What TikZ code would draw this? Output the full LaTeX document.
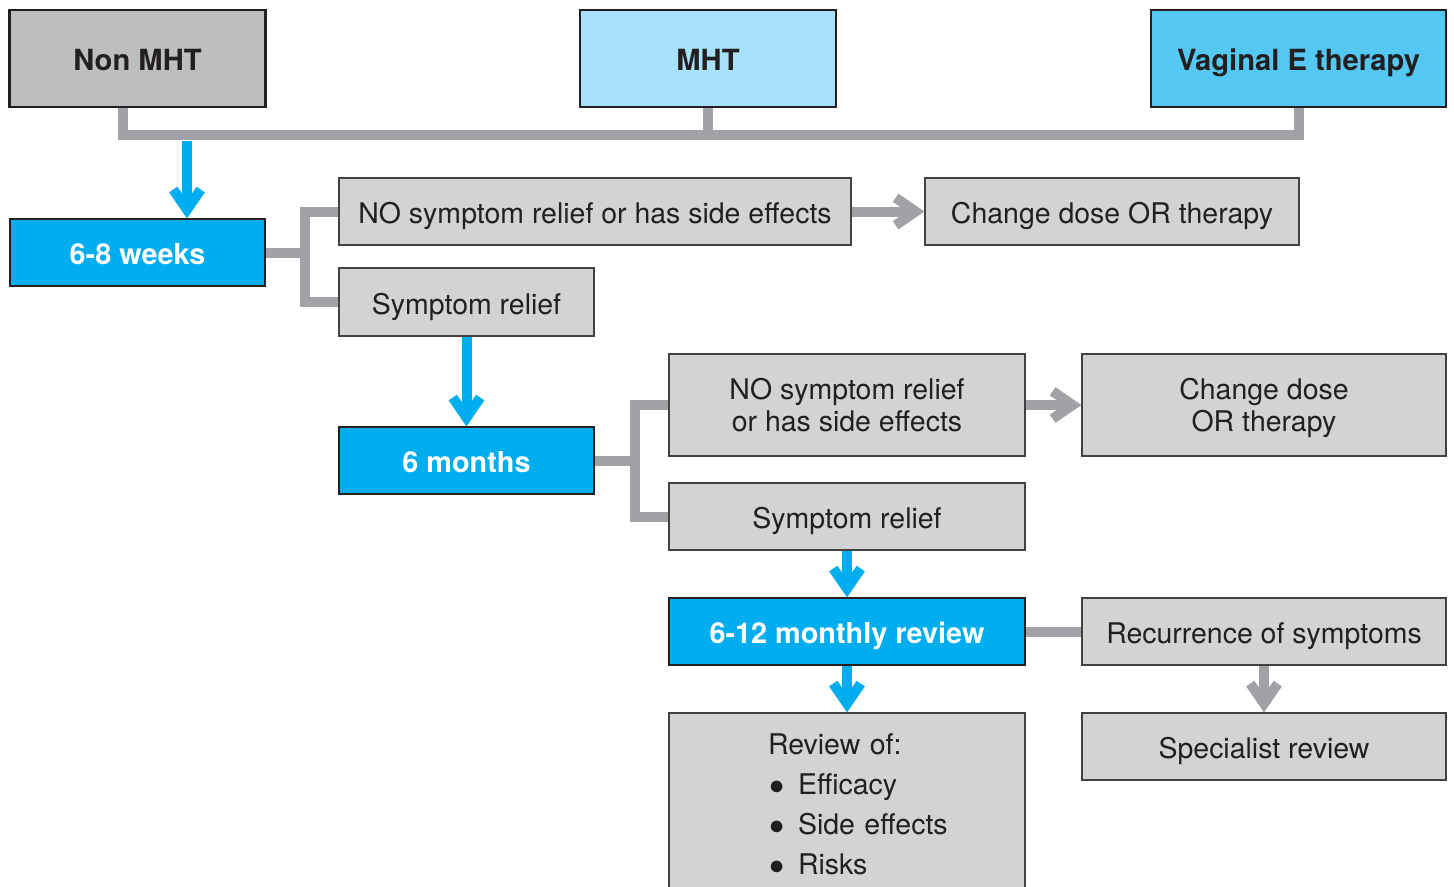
\documentclass[tikz,border=0pt]{standalone}
\usepackage{fontspec}
\setmainfont{TeX Gyre Heros}
\usetikzlibrary{arrows.meta}
\definecolor{cyanblue}{HTML}{00AEEF}
\definecolor{paleblue}{HTML}{A8E1F9}
\definecolor{midblue}{HTML}{54C8F3}
\definecolor{boxgray}{HTML}{D1D3D4}
\definecolor{headgray}{HTML}{BCBEC0}
\definecolor{linkgray}{HTML}{A0A2A5}
\definecolor{ink}{HTML}{231F20}

\begin{document}
\begin{tikzpicture}[
          x=0.02cm, y=-0.02cm,
          every node/.style={font=\fontsize{16.2}{18.5}\selectfont, text=ink},
          oneline/.style={text height=13.9pt, text depth=0pt},
          head/.style={draw=ink, line width=1.4pt, minimum width=5.12cm, minimum height=1.94cm, oneline, font=\fontsize{16.6}{18.5}\selectfont\bfseries},
          stage/.style={draw=ink, line width=0.7pt, fill=cyanblue, text=white, minimum width=5.1cm, minimum height=1.34cm, oneline, font=\fontsize{16.4}{18.5}\selectfont\bfseries},
          choice/.style={draw=ink!85, line width=0.7pt, fill=boxgray, minimum height=1.34cm, align=center},
          link/.style={draw=linkgray, line width=0.2cm},
          flow/.style={draw=cyanblue, line width=0.2cm, -{Straight Barb[length=0.4cm, width=0.55cm, sharp]}},
          turn/.style={link, -{Straight Barb[length=0.4cm, width=0.55cm, sharp]}}
      ]
        \useasboundingbox (0,0) rectangle (1454,886);
        \clip (0,0) rectangle (1454,886);

        % starting points
        \node[head, fill=headgray] (nonmht) at (137.5,58.5) {Non MHT};
        \node[head, fill=paleblue] (mht) at (708,58.5) {MHT};
        \node[head, fill=midblue, minimum width=5.9cm] (vaginal) at (1298.5,58.5) {Vaginal E therapy};

        % first check
        \node[stage] (weeks) at (137.5,252.5) {6-8 weeks};
        \node[choice, oneline, minimum width=10.24cm] (norelA) at (595,211.5) {NO symptom relief or has side effects};
        \node[choice, oneline, minimum width=7.48cm] (changeA) at (1112,211.5) {Change dose OR therapy};
        \node[choice, oneline, minimum width=5.1cm, minimum height=1.36cm] (reliefA) at (466.5,302) {Symptom relief};

        % second check
        \node[stage] (months) at (466.5,460.5) {6 months};
        \node[choice, minimum width=7.12cm, minimum height=2.04cm] (norelB) at (847,405) {NO symptom relief\\or has side effects};
        \node[choice, minimum width=7.28cm, minimum height=2.04cm] (changeB) at (1264,405) {Change dose\\OR \smash{therapy}};
        \node[choice, oneline, minimum width=7.12cm] (reliefB) at (847,516.5) {Symptom relief};

        % review
        \node[stage, minimum width=7.12cm] (review) at (847,631.5) {6-12 monthly review};
        \node[choice, oneline, minimum width=7.28cm] (recur) at (1264,631.5) {Recurrence of symptoms};
        \node[choice, oneline, minimum width=7.28cm] (specialist) at (1264,746.5) {Specialist review};
        \node[choice, minimum width=7.12cm, minimum height=3.64cm, align=left, text width=3.16cm,
              font=\fontsize{16.2}{22.8}\selectfont] (reviewof) at (847,804)
              {\mbox{Review of:}\\
               \mbox{\makebox[0.6cm][l]{\hspace{0.02cm}$\bullet$}Efficacy}\\
               \mbox{\makebox[0.6cm][l]{\hspace{0.02cm}$\bullet$}Side effects}\\
               \mbox{\makebox[0.6cm][l]{\hspace{0.02cm}$\bullet$}Risks}};

        % bus under the three options
        \coordinate (bus) at (0,135);
        \coordinate (busdrop) at (187,141);
        \draw[link] ([xshift=-0.29cm]nonmht.south) |- (vaginal.south |- bus) -- (vaginal.south);
        \draw[link] (mht.south) -- (mht.south |- bus);
        \draw[flow] (busdrop) -- (busdrop |- weeks.north);

        % branches
        \coordinate (splitA) at (305,0);
        \coordinate (splitB) at (635,0);
        \draw[link] (weeks.east) -- (weeks.east -| splitA);
        \draw[link] (norelA.west) -- (norelA.west -| splitA) -- (reliefA.west -| splitA) -- (reliefA.west);
        \draw[link] (months.east) -- (months.east -| splitB);
        \draw[link] (norelB.west) -- (norelB.west -| splitB) -- (reliefB.west -| splitB) -- (reliefB.west);
        \draw[link] (review.east) -- (recur.west);

        \draw[turn] (norelA) -- (changeA);
        \draw[turn] (norelB) -- (changeB);
        \draw[turn] (recur) -- (specialist);

        \draw[flow] (reliefA) -- (months);
        \draw[flow] (reliefB) -- (review);
        \draw[flow] (review) -- (reviewof);
      \end{tikzpicture}
\end{document}
